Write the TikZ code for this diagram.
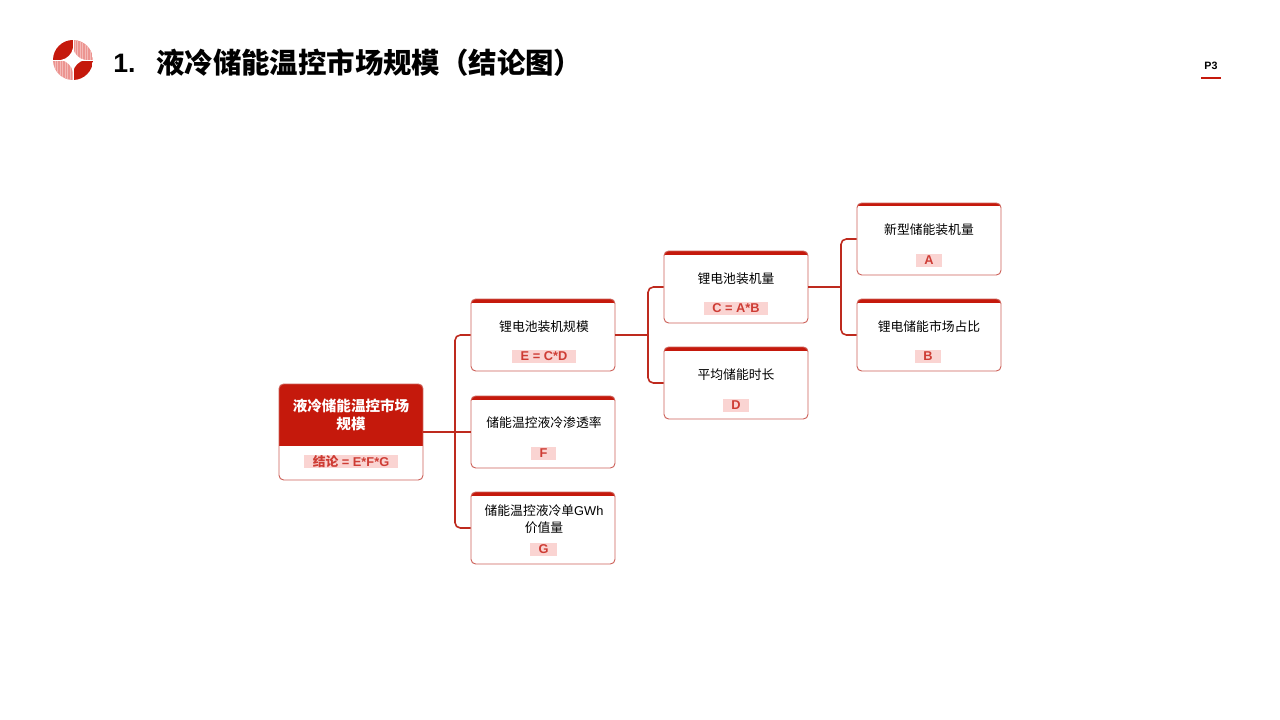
\documentclass[tikz,border=0pt]{standalone}
\usepackage{xcolor}
\usepackage{fontspec}
\setmainfont{Liberation Sans}
\newfontfamily\cjk{Noto Sans CJK SC}
\usepackage{tikz}
\definecolor{deepred}{HTML}{C5190C}
\definecolor{edgered}{HTML}{CC6058}
\definecolor{wirered}{HTML}{BE2A1E}
\definecolor{tagpink}{HTML}{FAD4D2}
\definecolor{tagred}{HTML}{CE3C34}
\definecolor{logopink}{HTML}{EC9490}
\tikzset{
  card/.style={shape=rectangle, draw=edgered, line width=0.7pt, rounded corners=3.5pt, fill=white,
    minimum width=108pt, minimum height=54pt, inner sep=0pt,
    path picture={\fill [deepred, sharp corners] (path picture bounding box.north west) rectangle ++(144, 3.5);}},
  rootcard/.style={card, minimum height=72pt,
    path picture={\fill [deepred, sharp corners] (path picture bounding box.north west) rectangle ++(144, 62);}},
  cardtitle/.style={font=\cjk\fontsize{9.6pt}{12.75pt}\selectfont, text=black, align=center, inner sep=0pt},
  roottitle/.style={font=\cjk\bfseries\fontsize{10.9pt}{13.5pt}\selectfont, text=white, align=center, inner sep=0pt},
  cardtag/.style={shape=rectangle, fill=tagpink, text=tagred, font=\fontsize{9.6pt}{10pt}\selectfont\bfseries,
    inner xsep=6.5pt, inner ysep=0pt, minimum height=9.75pt},
  wire/.style={draw=wirered, line width=1.2pt, rounded corners=4pt}
}
\begin{document}
\begin{tikzpicture}[x=0.75pt, y=-0.75pt]
\useasboundingbox (0, 0) rectangle (1280, 720);
% logo
\begin{scope}
\clip (73, 60) circle [radius=15pt];
\fill [deepred] (53, 40) rectangle (73, 60);
\fill [deepred] (73, 60) rectangle (93, 80);
\fill [logopink] (73, 40) rectangle (93, 60);
\fill [logopink] (53, 60) rectangle (73, 80);
\foreach \i in {75, 77.5, ..., 93} {\draw [white!35!logopink, line width=0.4pt] (\i, 40) -- (\i, 60);}
\foreach \i in {55, 57.5, ..., 73} {\draw [white!35!logopink, line width=0.4pt] (\i, 60) -- (\i, 80);}
\end{scope}
\draw [white, line width=0.7pt] (53, 60) -- (93, 60);
\draw [white, line width=0.7pt] (73, 40) -- (73, 80);
\fill [white] (73, 48) .. controls (74, 54) and (79, 59) .. (85, 60) .. controls (79, 61) and (74, 66) .. (73, 72)
  .. controls (72, 66) and (67, 61) .. (61, 60) .. controls (67, 59) and (72, 54) .. (73, 48) -- cycle;
% heading
\node at (113, 63) [anchor=west, inner sep=0pt, font=\bfseries\fontsize{20pt}{24pt}\selectfont] (headnum) {1.};
\node at (156, 63) [anchor=west, inner sep=0pt, font=\cjk\bfseries\fontsize{21.3pt}{26pt}\selectfont] (headtext) {液冷储能温控市场规模（结论图）};
\node at (1211, 66) [inner sep=0pt, font=\bfseries\fontsize{8pt}{10pt}\selectfont] (pagenum) {P3};
\coordinate (ruleleft) at (1201, 78);
\coordinate (ruleright) at (1221, 78);
\draw [deepred, line width=1.5pt] (ruleleft) -- (ruleright);
% cards
\node at (351, 432) [rootcard] (root) {};
\node at (543, 335) [card] (cardE) {};
\node at (543, 432) [card] (cardF) {};
\node at (543, 528) [card] (cardG) {};
\node at (736, 287) [card] (cardC) {};
\node at (736, 383) [card] (cardD) {};
\node at (929, 239) [card] (cardA) {};
\node at (929, 335) [card] (cardB) {};
% card texts
\node at (351, 415) [roottitle] (titleroot) {液冷储能温控市场\\规模};
\node at (351, 461.5) [cardtag] (tagroot) {{\cjk 结论} = E*F*G};
\node at (544, 326.7) [cardtitle] (titleE) {锂电池装机规模};
\node at (544, 356.5) [cardtag] (tagE) {E = C*D};
\node at (544, 422.7) [cardtitle] (titleF) {储能温控液冷渗透率};
\node at (543.5, 453) [cardtag] (tagF) {F};
\node at (544, 519) [cardtitle] (titleG) {储能温控液冷单{\fontspec{Liberation Sans}GWh}\\价值量};
\node at (543.5, 549.5) [cardtag] (tagG) {G};
\node at (736, 278.7) [cardtitle] (titleC) {锂电池装机量};
\node at (736, 308.5) [cardtag] (tagC) {C = A*B};
\node at (736, 374.7) [cardtitle] (titleD) {平均储能时长};
\node at (736, 405) [cardtag] (tagD) {D};
\node at (929, 229.7) [cardtitle] (titleA) {新型储能装机量};
\node at (929, 260.5) [cardtag] (tagA) {A};
\node at (929, 326.7) [cardtitle] (titleB) {锂电储能市场占比};
\node at (928, 356.5) [cardtag] (tagB) {B};
% connectors
\coordinate (forkroot) at (455, 432);
\coordinate (forkE) at (648, 335);
\coordinate (forkC) at (841, 287);
\draw [wire] (root.east) to (cardF.west);
\draw [wire] (forkroot) |- (cardE.west);
\draw [wire] (forkroot) |- (cardG.west);
\draw [wire] (cardE.east) to (forkE);
\draw [wire] (forkE) |- (cardC.west);
\draw [wire] (forkE) |- (cardD.west);
\draw [wire] (cardC.east) to (forkC);
\draw [wire] (forkC) |- (cardA.west);
\draw [wire] (forkC) |- (cardB.west);
\end{tikzpicture}
\end{document}
